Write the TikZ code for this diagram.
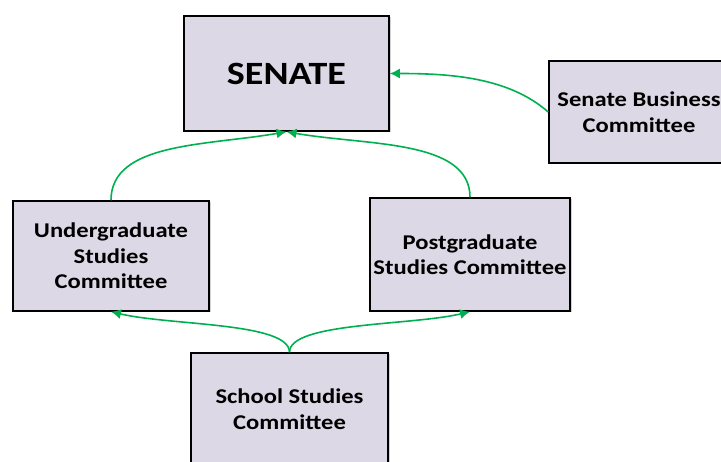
\documentclass[tikz,border=0pt]{standalone}
\usepackage{fontspec}
\setmainfont{Carlito}[FakeStretch=1.17]
\usepackage{tikz}
\usetikzlibrary{arrows.meta,shadows}

\definecolor{boxfill}{RGB}{220,216,229}
\definecolor{linkgreen}{RGB}{0,176,80}

\begin{document}
\begin{tikzpicture}[x=1pt,y=1pt,
    body/.style={draw=black, line width=1.5pt, fill=boxfill, inner sep=0pt,
        align=center, font=\bfseries\fontsize{21}{25.5}\selectfont,
        drop shadow={shadow xshift=1.5pt, shadow yshift=-1.5pt, fill=black!35}},
    link/.style={draw=linkgreen, line width=1.6pt, -{Latex[length=10pt,width=10pt]}}]
                        \useasboundingbox (0,0) rectangle (721,-462);

                        \node[body, minimum width=205pt, minimum height=115pt] (senate) at (286.5,-73.5) {\fontsize{32.5}{36}\selectfont SENATE};
                        \node[body, minimum width=180pt, minimum height=102pt] (sbc) at (639,-112) {Senate Business\\Committee};
                        \node[body, minimum width=196pt, minimum height=110pt] (ugc) at (111,-256) {Undergraduate\\Studies\\Committee};
                        \node[body, minimum width=200pt, minimum height=113pt] (pgc) at (470,-254.5) {Postgraduate\\Studies Committee};
                        \node[body, minimum width=197pt, minimum height=112pt] (ssc) at (289.5,-409) {School Studies\\Committee};

                        \draw[link] (sbc.west) .. controls +(-40,35) and +(60,0) .. (senate.east);
                        \draw[link] (ugc.north) .. controls +(0,58) and +(-80,-14) .. (senate.south);
                        \draw[link] (pgc.north) .. controls +(0,58) and +(80,-14) .. (senate.south);
                        \draw[link] (ssc.north) .. controls +(0,30) and +(60,-14) .. (ugc.south);
                        \draw[link] (ssc.north) .. controls +(0,30) and +(-60,-14) .. (pgc.south);
                    \end{tikzpicture}
\end{document}
